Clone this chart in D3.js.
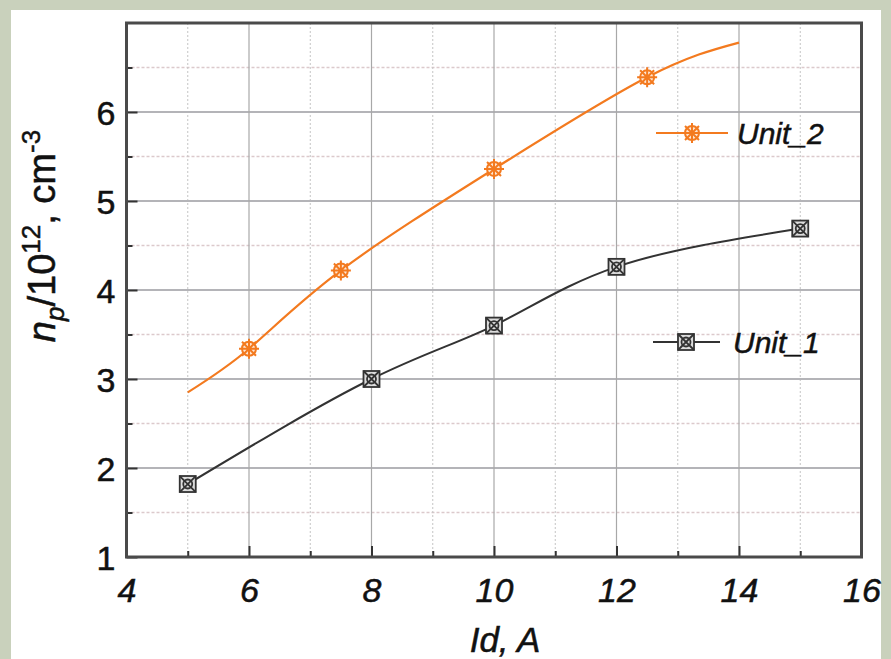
<!DOCTYPE html>
<html>
<head>
<meta charset="utf-8">
<script src="https://cdn.jsdelivr.net/npm/d3@7"></script>
<style>
  body { margin: 0; background: #c9d1bc; }
  svg { display: block; font-family: "Liberation Sans", Arial, sans-serif; }
  text { stroke: #111; stroke-width: 0.5px; }
</style>
</head>
<body>
<svg width="891" height="659"></svg>
<script>
// unit 1 - measured points (markers) and the curve runs through them
const unit1X = [5, 8, 10, 12, 15];
const unit1Y = [1.82, 3.0, 3.6, 4.26, 4.69];

// unit 2 - curve nodes, markers only on the inner ones
const unit2LineX = [5, 6, 7.5, 10, 12.5, 14];
const unit2LineY = [2.85, 3.34, 4.22, 5.36, 6.39, 6.78];
const unit2X = [6, 7.5, 10, 12.5];
const unit2Y = [3.34, 4.22, 5.36, 6.39];

const xTicks = [4, 6, 8, 10, 12, 14, 16];
const xMinor = [5, 7, 9, 11, 13, 15];
const yTicks = [1, 2, 3, 4, 5, 6];
const yMinor = [1.5, 2.5, 3.5, 4.5, 5.5, 6.5];

const orange = '#f37a1f';
const dark = '#333';

const plotL = 126.5, plotR = 861.5, plotT = 23, plotB = 557;

const svg = d3.select('svg');

// white panel
svg.append('rect')
  .attr('x', 11).attr('y', 10).attr('width', 870).attr('height', 660)
  .attr('fill', '#fff');

const x = d3.scaleLinear().domain([4, 16]).range([plotL, plotR]);
const y = d3.scaleLinear().domain([1, 7]).range([plotB, plotT]);

// grid
let grid = svg.append('g');
grid.selectAll('.hmin').data(yMinor).enter().append('line')
  .attr('x1', plotL).attr('x2', plotR)
  .attr('y1', d => y(d)).attr('y2', d => y(d))
  .attr('stroke', '#dcc9cc').attr('stroke-width', 1.5).attr('stroke-dasharray', '3,2');
grid.selectAll('.vmin').data(xMinor).enter().append('line')
  .attr('x1', d => x(d)).attr('x2', d => x(d))
  .attr('y1', plotT).attr('y2', plotB)
  .attr('stroke', '#c4c4c4').attr('stroke-width', 1).attr('stroke-dasharray', '2,2');
grid.selectAll('.hmaj').data(yTicks.slice(1)).enter().append('line')
  .attr('x1', plotL).attr('x2', plotR)
  .attr('y1', d => y(d)).attr('y2', d => y(d))
  .attr('stroke', '#b4b4b8').attr('stroke-width', 2);
grid.selectAll('.vmaj').data(xTicks.slice(1, -1)).enter().append('line')
  .attr('x1', d => x(d)).attr('x2', d => x(d))
  .attr('y1', plotT).attr('y2', plotB)
  .attr('stroke', '#a8a8a8').attr('stroke-width', 1.2);

// axes, ticks inside
svg.append('g').attr('transform', 'translate(' + plotL + ',0)')
  .call(d3.axisLeft(y).tickValues(yMinor).tickSize(-6).tickFormat(''))
  .call(g => g.select('.domain').remove());
svg.append('g').attr('transform', 'translate(0,' + plotB + ')')
  .call(d3.axisBottom(x).tickValues(xMinor).tickSize(-6).tickFormat(''))
  .call(g => g.select('.domain').remove());

let yAxis = svg.append('g').attr('transform', 'translate(' + plotL + ',0)')
  .call(d3.axisLeft(y).tickValues(yTicks).tickSize(-11).tickPadding(11).tickFormat(d3.format('d')));
let xAxis = svg.append('g').attr('transform', 'translate(0,' + plotB + ')')
  .call(d3.axisBottom(x).tickValues(xTicks).tickSize(-11).tickPadding(22).tickFormat(d3.format('d')));
[yAxis, xAxis].forEach(g => {
  g.select('.domain').remove();
  g.selectAll('text').attr('font-size', 34).attr('fill', '#111')
    .attr('font-family', '"Liberation Sans", Arial, sans-serif');
});
yAxis.selectAll('text').attr('dy', '0.36em');
xAxis.selectAll('text').attr('font-style', 'italic').attr('dy', '0.68em');
svg.selectAll('.tick line').attr('stroke', '#333').attr('stroke-width', 2);

// frame
svg.append('rect')
  .attr('x', plotL).attr('y', plotT).attr('width', plotR - plotL).attr('height', plotB - plotT)
  .attr('fill', 'none').attr('stroke', '#4a4a4a').attr('stroke-width', 3);

// curves
const line = d3.line().x(d => x(d[0])).y(d => y(d[1])).curve(d3.curveNatural);
svg.append('path').datum(d3.zip(unit1X, unit1Y)).attr('d', line)
  .attr('fill', 'none').attr('stroke', dark).attr('stroke-width', 2);
svg.append('path').datum(d3.zip(unit2LineX, unit2LineY)).attr('d', line)
  .attr('fill', 'none').attr('stroke', orange).attr('stroke-width', 2.2);

function squareMarker(g, cx, cy) {
  let m = g.append('g').attr('transform', 'translate(' + cx + ',' + cy + ')')
    .attr('stroke', dark).attr('stroke-width', 1.8).attr('fill', 'none');
  m.append('rect').attr('x', -8).attr('y', -8).attr('width', 16).attr('height', 16).attr('fill', '#ddd');
  m.append('circle').attr('r', 4.5);
  m.append('path').attr('d', 'M-8,-8L8,8M-8,8L8,-8');
}
function starMarker(g, cx, cy) {
  let m = g.append('g').attr('transform', 'translate(' + cx + ',' + cy + ')')
    .attr('stroke', orange).attr('stroke-width', 2).attr('fill', 'none');
  m.append('circle').attr('r', 7).attr('fill', '#fde6d4');
  m.append('path').attr('d', 'M-7,-7L7,7M-7,7L7,-7M0,-10V10M-10,0H10');
}

let marks = svg.append('g');
unit1X.forEach((d, i) => squareMarker(marks, x(d), y(unit1Y[i])));
unit2X.forEach((d, i) => starMarker(marks, x(d), y(unit2Y[i])));

// legend
let leg = svg.append('g');
leg.append('line').attr('x1', 656).attr('x2', 728).attr('y1', 133).attr('y2', 133)
  .attr('stroke', orange).attr('stroke-width', 2.2);
starMarker(leg, 692, 133);
leg.append('text').attr('x', 737).attr('y', 133).attr('dy', '0.36em')
  .attr('font-size', 30).attr('font-style', 'italic').attr('fill', '#111').text('Unit_2');
leg.append('line').attr('x1', 653).attr('x2', 720).attr('y1', 342).attr('y2', 342)
  .attr('stroke', dark).attr('stroke-width', 2);
squareMarker(leg, 686, 342);
leg.append('text').attr('x', 733).attr('y', 342).attr('dy', '0.36em')
  .attr('font-size', 30).attr('font-style', 'italic').attr('fill', '#111').text('Unit_1');

// axis titles
svg.append('text').attr('x', 505).attr('y', 652)
  .attr('text-anchor', 'middle').attr('font-size', 35).attr('font-style', 'italic')
  .attr('fill', '#111').text('Id, A');

let yt = svg.append('text').attr('transform', 'translate(55,236) rotate(-90)')
  .attr('text-anchor', 'middle').attr('font-size', 38).attr('fill', '#111');
yt.append('tspan').attr('font-style', 'italic').text('n');
yt.append('tspan').attr('font-style', 'italic').attr('font-size', 26).attr('dy', 9).text('p');
yt.append('tspan').attr('dy', -9).text('/10');
yt.append('tspan').attr('font-size', 26).attr('dy', -15).text('12');
yt.append('tspan').attr('dy', 15).text(', cm');
yt.append('tspan').attr('font-size', 26).attr('dy', -15).text('-3');
</script>
</body>
</html>
